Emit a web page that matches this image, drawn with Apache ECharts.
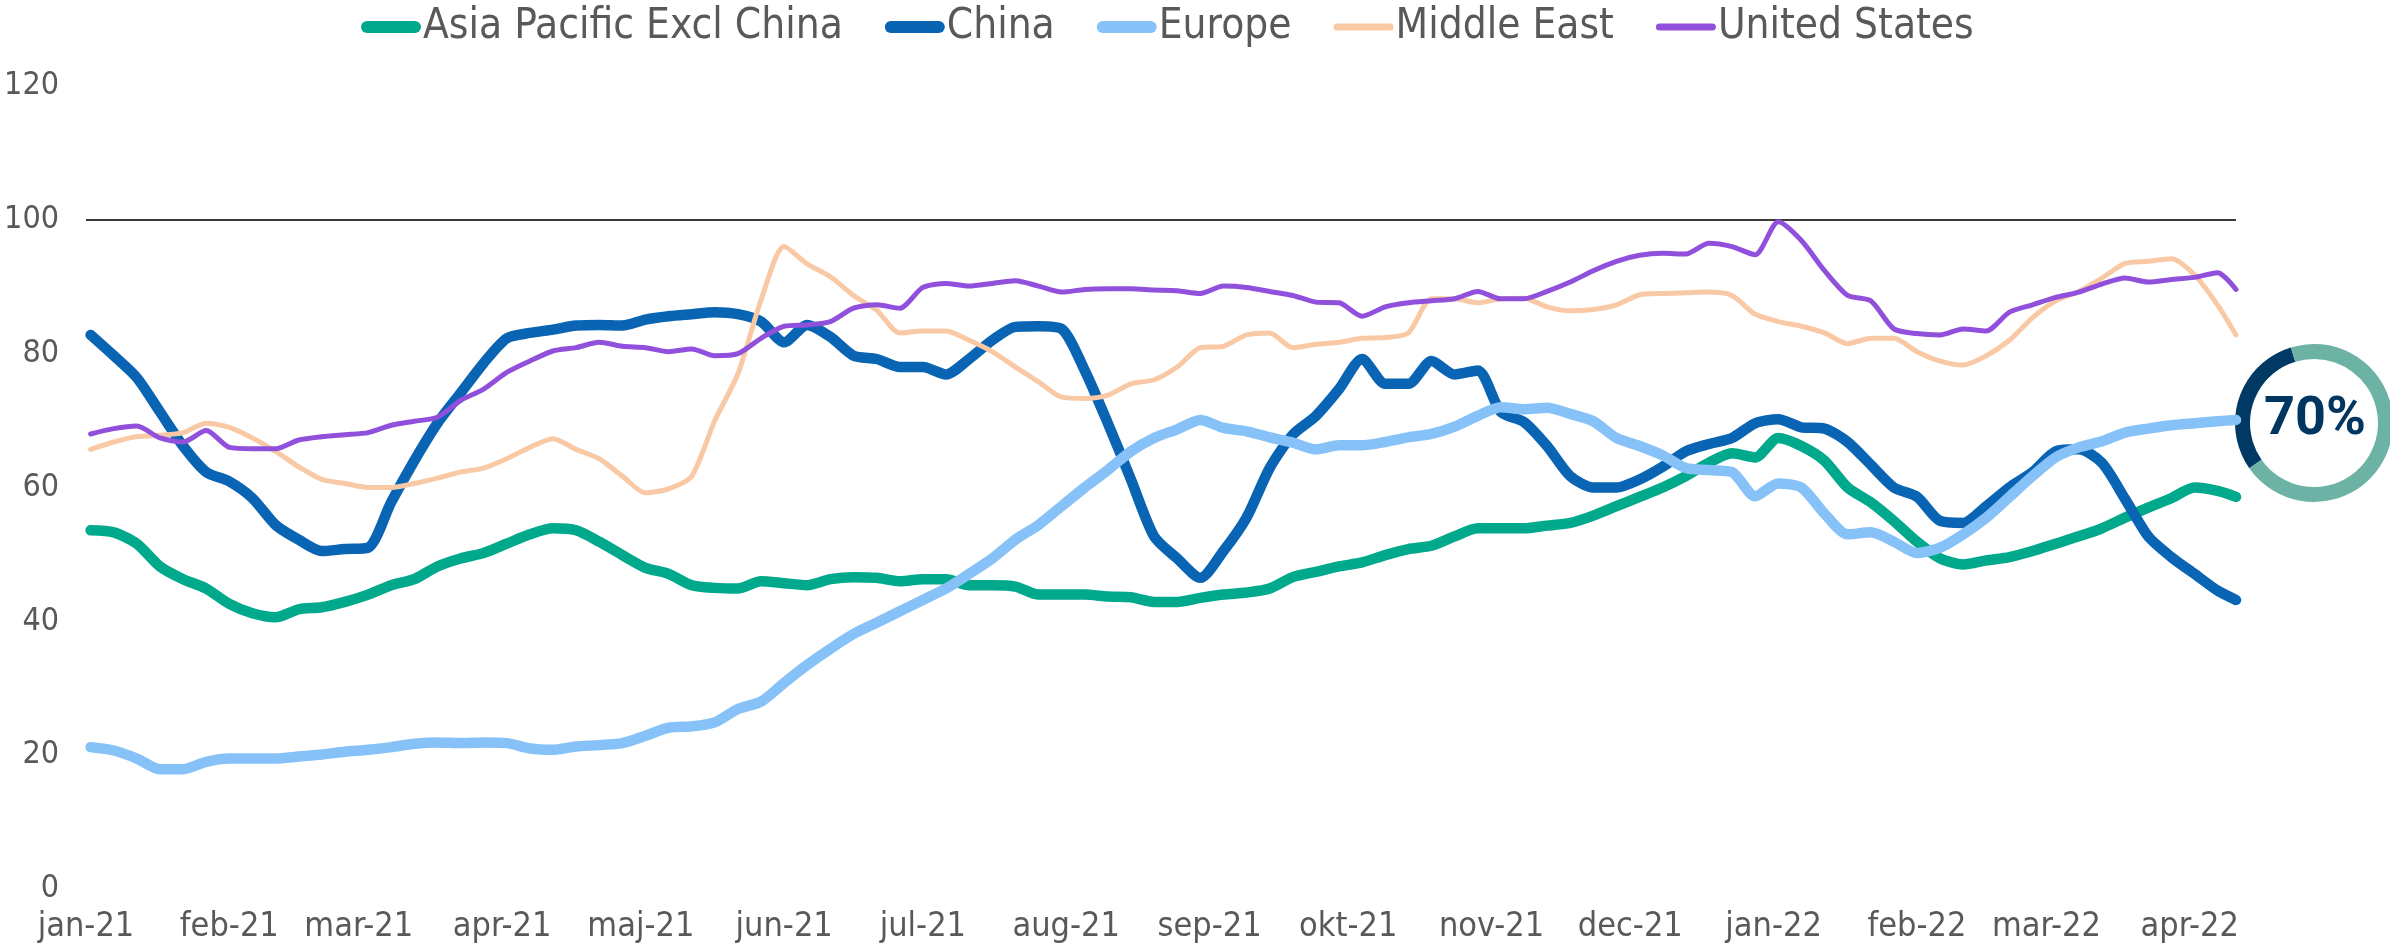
<!DOCTYPE html>
<html>
<head>
<meta charset="utf-8">
<script src="https://cdn.jsdelivr.net/npm/echarts@6/dist/echarts.min.js"></script>
<style>
html,body{margin:0;padding:0;background:#fff;}
#chart{width:2390px;height:949px;}
</style>
</head>
<body>
<div id="chart"></div>
<script>
// Day offsets (days since 2021-01-01) of the sampled points
const sampleDays = [1,6,11,16,21,26,31,36,41,46,51,56,61,66,71,76,
  81,86,91,96,101,106,111,116,121,126,131,136,141,146,151,156,
  161,166,171,176,181,186,191,196,201,206,211,216,221,226,231,
  236,241,246,251,256,261,266,271,276,281,286,291,296,301,306,311,
  316,321,326,331,336,341,346,351,356,361,366,371,376,381,386,
  391,396,401,406,411,416,421,426,431,436,441,446,451,456,461,465];

const seriesNames = ['Asia Pacific Excl China','China','Europe','Middle East','United States'];

const asia = [53.6,53.3,51.6,48.2,46.3,44.9,42.6,41.2,40.6,41.8,42.1,42.9,44.0,45.4,46.3,48.2,
  49.4,50.2,51.6,53.0,53.9,53.6,51.9,49.9,48.0,47.1,45.4,45.0,44.9,46.0,45.7,45.4,
  46.3,46.6,46.5,46.0,46.3,46.3,45.4,45.4,45.2,44.0,44.0,44.0,43.7,43.6,42.9,
  42.9,43.5,44.0,44.3,44.9,46.6,47.4,48.2,48.8,49.9,50.8,51.3,52.7,53.9,53.9,53.9,
  54.3,54.7,55.8,57.2,58.6,60.0,61.7,63.7,65.1,64.5,67.4,66.2,64.0,60.0,57.8,
  55.0,51.9,49.4,48.5,49.1,49.6,50.5,51.6,52.7,53.9,55.5,57.0,58.4,60.0,59.5,58.6];

const china = [82.8,79.7,76.4,71.3,66.2,62.3,60.9,58.4,54.4,52.2,50.5,50.8,51.0,57.8,64.0,69.6,
  74.1,78.6,82.3,83.1,83.6,84.2,84.3,84.2,85.1,85.6,85.9,86.2,85.9,84.8,81.7,84.3,
  82.5,79.7,79.2,78.0,78.0,76.9,79.2,82.0,84.0,84.1,83.7,77.5,69.6,61.2,52.7,
  49.4,46.5,50.5,55.5,62.9,67.9,70.7,74.7,79.2,75.5,75.5,78.9,76.9,77.5,71.3,69.8,
  66.2,61.7,60.0,60.0,61.2,63.1,65.4,66.5,67.4,69.6,70.2,69.0,68.8,66.8,63.4,
  60.0,58.6,55.0,54.7,57.2,60.0,62.3,65.4,65.7,63.7,58.3,52.7,49.6,47.1,44.6,43.2];

const europe = [21.2,20.7,19.5,17.9,17.9,19.0,19.5,19.5,19.5,19.8,20.1,20.5,20.8,21.2,21.7,21.9,
  21.8,21.9,21.8,21.0,20.8,21.3,21.5,21.8,22.9,24.1,24.3,24.9,26.9,28.0,30.8,33.5,
  35.9,38.1,39.8,41.5,43.2,44.9,47.1,49.4,52.2,54.4,57.2,60.0,62.6,65.4,67.4,
  68.7,70.1,68.9,68.4,67.5,66.7,65.7,66.3,66.3,66.8,67.5,68.0,69.1,70.7,72.0,71.7,
  71.9,71.0,69.9,67.4,66.2,64.8,62.9,62.6,62.3,58.7,60.6,60.0,56.1,53.0,53.3,
  51.9,50.2,51.0,53.0,55.5,58.6,61.7,64.5,66.0,66.9,68.2,68.8,69.3,69.6,69.9,70.1];

const middleEast = [65.7,66.8,67.6,67.8,68.2,69.6,69.0,67.4,65.4,63.1,61.2,60.6,60.0,60.0,60.6,61.4,
  62.3,62.9,64.3,66.0,67.3,65.7,64.3,61.7,59.2,59.8,61.7,70.0,77.0,88.0,96.0,93.4,
  91.5,88.7,86.5,83.1,83.4,83.4,82.0,80.3,78.0,75.8,73.5,73.3,73.8,75.5,76.1,
  78.0,80.9,81.1,82.8,83.1,80.9,81.4,81.7,82.3,82.4,83.1,88.2,88.2,87.6,88.2,88.3,
  87.0,86.4,86.6,87.3,88.8,89.0,89.1,89.2,88.7,85.9,84.8,84.1,83.1,81.5,82.3,
  82.3,80.3,78.9,78.3,79.7,82.0,85.4,87.9,89.3,91.3,93.5,93.8,94.2,91.8,87.3,82.8];

const unitedStates = [68.0,68.8,69.2,67.4,66.8,68.5,66.0,65.8,65.8,67.1,67.6,67.9,68.2,69.3,69.9,70.5,
  73.0,74.7,77.2,78.9,80.4,80.9,81.7,81.1,80.9,80.3,80.7,79.7,80.0,82.3,84.1,84.3,
  84.8,86.8,87.3,86.8,89.9,90.5,90.1,90.5,90.9,90.1,89.2,89.6,89.7,89.7,89.5,
  89.4,89.0,90.1,89.9,89.3,88.7,87.7,87.6,85.6,87.0,87.6,87.9,88.2,89.3,88.2,88.2,
  89.3,90.7,92.4,93.8,94.7,95.0,94.9,96.5,96.0,94.8,99.7,96.9,92.4,88.7,87.9,
  83.7,83.0,82.8,83.7,83.4,86.2,87.3,88.4,89.2,90.4,91.3,90.7,91.1,91.4,92.1,89.6];

const monthLabels = ['jan-21','feb-21','mar-21','apr-21','maj-21','jun-21','jul-21','aug-21','sep-21','okt-21','nov-21','dec-21','jan-22','feb-22','mar-22','apr-22'];
const referenceLevel = 100;
const badgeValues = [30, 70];
const badgeLabel = '70%';

// daily categories 2021-01-01 .. 2022-04-11
const categories = [];
for (let i = 0; i <= 465; i++) {
  const d = new Date(Date.UTC(2021, 0, 1) + i * 86400000);
  categories.push(d.toISOString().slice(0, 10));
}

const FONT = "'Liberation Sans Narrow','DejaVu Sans Condensed','Liberation Sans',sans-serif";
const colors = ['#00A98B', '#0A64B4', '#86C2F7', '#F8C9A4', '#9150DC'];
const widths = [10.5, 10.5, 10.5, 5, 5];
const values = [asia, china, europe, middleEast, unitedStates];

const thickIcon = 'path://M6,0H54A6,6,0,0,1,54,12H6A6,6,0,0,1,6,0Z';
const thinIcon = 'path://M3.5,2.5H56.5A3.5,3.5,0,0,1,56.5,9.5H3.5A3.5,3.5,0,0,1,3.5,2.5Z';

const lineSeries = seriesNames.map((name, k) => ({
  name: name,
  type: 'line',
  data: sampleDays.map((d, i) => [d, values[k][i]]),
  showSymbol: false,
  symbol: 'none',
  smooth: 0.25,
  lineStyle: { color: colors[k], width: widths[k], cap: 'round', join: 'round' },
  itemStyle: { color: colors[k] },
  emphasis: { disabled: true },
  silent: true,
  z: 2 + k,
  markLine: k === 0 ? {
    silent: true,
    symbol: 'none',
    label: { show: false },
    lineStyle: { color: '#3a3a3a', width: 2, type: 'solid' },
    data: [{ yAxis: referenceLevel }]
  } : undefined
}));

const chart = echarts.init(document.getElementById('chart'), null, { renderer: 'canvas' });
chart.setOption({
  animation: false,
  backgroundColor: '#ffffff',
  legend: {
    data: seriesNames.map((n, k) => ({ name: n, icon: k < 3 ? thickIcon : thinIcon })),
    left: 356,
    top: 1,
    itemWidth: 60,
    itemHeight: 12,
    itemGap: 42,
    textStyle: { color: '#595959', fontSize: 42, fontFamily: FONT, padding: [0, 0, 0, -3] },
    selectedMode: false
  },
  grid: { left: 86, right: 154, top: 86, bottom: 60, containLabel: false, outerBoundsMode: 'none' },
  xAxis: {
    type: 'category',
    data: categories,
    boundaryGap: false,
    axisLine: { show: false },
    axisTick: { show: false },
    splitLine: { show: false },
    axisLabel: {
      color: '#595959',
      fontSize: 34,
      fontFamily: FONT,
      margin: 21,
      hideOverlap: false,
      interval: (idx, val) => val.slice(8) === '01',
      formatter: (val) => {
        const y = +val.slice(0, 4), m = +val.slice(5, 7);
        return monthLabels[(y - 2021) * 12 + m - 1];
      }
    }
  },
  yAxis: {
    type: 'value',
    min: 0,
    max: 120,
    interval: 20,
    axisLine: { show: false },
    axisTick: { show: false },
    splitLine: { show: false },
    axisLabel: { color: '#595959', fontSize: 32, fontFamily: FONT, margin: 27, padding: [6, 0, 0, 0] }
  },
  series: lineSeries.concat([{
    type: 'pie',
    silent: true,
    center: [2314, 423],
    radius: [64, 79],
    startAngle: 215,
    clockwise: true,
    label: { show: false },
    labelLine: { show: false },
    emphasis: { disabled: true },
    data: [
      { value: badgeValues[0], name: 'badge-a', itemStyle: { color: '#003A64' } },
      { value: badgeValues[1], name: 'badge-b', itemStyle: { color: '#6DB3A5' } }
    ]
  }]),
  graphic: [{
    type: 'text',
    left: 2316 - 52,
    top: 423 - 30,
    style: {
      text: badgeLabel,
      fill: '#003660',
      font: "bold 54px Roboto, 'Noto Sans', sans-serif",
      textAlign: 'left',
      textVerticalAlign: 'top'
    }
  }]
});
</script>
</body>
</html>
